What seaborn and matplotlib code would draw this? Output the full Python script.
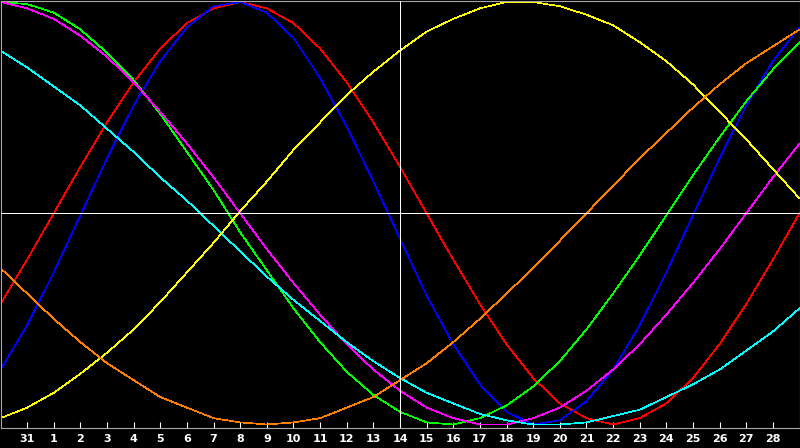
import numpy as np
import pandas as pd
import matplotlib
matplotlib.use("Agg")
import matplotlib.pyplot as plt
import seaborn as sns

# Day labels shown on the axis (index 1..29); index 0 and 30 are unlabeled edges
day_labels = ["31", "1", "2", "3", "4", "5", "6", "7", "8", "9", "10", "11", "12", "13",
              "14", "15", "16", "17", "18", "19", "20", "21", "22", "23", "24", "25",
              "26", "27", "28"]

# Values per day index 0..30 (range -1..1)
red = [-0.43, -0.22, 0.00, 0.22, 0.43, 0.62, 0.78, 0.90, 0.97, 1.00, 0.97, 0.90, 0.78,
       0.62, 0.43, 0.22, 0.00, -0.22, -0.43, -0.62, -0.78, -0.90, -0.97, -1.00, -0.97,
       -0.90, -0.78, -0.62, -0.43, -0.22, 0.00]
blue = [-0.74, -0.53, -0.28, -0.01, 0.26, 0.51, 0.72, 0.88, 0.98, 1.00, 0.95, 0.83,
        0.64, 0.41, 0.15, -0.12, -0.39, -0.62, -0.81, -0.94, -1.00, -0.98, -0.89, -0.74,
        -0.53, -0.28, -0.01, 0.26, 0.51, 0.72, 0.88]
green = [1.00, 0.99, 0.95, 0.87, 0.76, 0.63, 0.47, 0.29, 0.11, -0.09, -0.27, -0.45,
         -0.61, -0.75, -0.86, -0.94, -0.99, -1.00, -0.97, -0.91, -0.82, -0.70, -0.55,
         -0.38, -0.20, -0.01, 0.18, 0.36, 0.53, 0.68, 0.81]
magenta = [1.00, 0.97, 0.92, 0.84, 0.74, 0.62, 0.48, 0.33, 0.17, 0.00, -0.17, -0.33,
           -0.48, -0.62, -0.74, -0.84, -0.92, -0.97, -1.00, -1.00, -0.97, -0.92, -0.84,
           -0.74, -0.62, -0.48, -0.33, -0.17, 0.00, 0.17, 0.33]
cyan = [0.77, 0.69, 0.60, 0.51, 0.40, 0.29, 0.17, 0.06, -0.06, -0.18, -0.30, -0.41,
        -0.51, -0.61, -0.70, -0.78, -0.85, -0.90, -0.95, -0.98, -1.00, -1.00, -0.99,
        -0.96, -0.93, -0.87, -0.81, -0.74, -0.65, -0.56, -0.45]
yellow = [-0.97, -0.92, -0.85, -0.76, -0.66, -0.55, -0.42, -0.28, -0.14, 0.01, 0.15,
          0.30, 0.43, 0.56, 0.67, 0.77, 0.86, 0.92, 0.97, 1.00, 1.00, 0.98, 0.94, 0.89,
          0.81, 0.72, 0.61, 0.48, 0.35, 0.21, 0.07]
orange = [-0.26, -0.38, -0.50, -0.61, -0.71, -0.79, -0.87, -0.92, -0.97, -0.99, -1.00,
          -0.99, -0.97, -0.92, -0.87, -0.79, -0.71, -0.61, -0.50, -0.38, -0.26, -0.13,
          0.00, 0.13, 0.26, 0.38, 0.50, 0.61, 0.71, 0.79, 0.87]

series = [
    ("red", red, "#ff0000"),
    ("blue", blue, "#0000ff"),
    ("green", green, "#00ff00"),
    ("magenta", magenta, "#ff00ff"),
    ("cyan", cyan, "#00ffff"),
    ("yellow", yellow, "#ffff00"),
    ("orange", orange, "#ff8000"),
]

day_index = list(range(len(red)))
frames = []
for name, vals, _ in series:
    frames.append(pd.DataFrame({"day": day_index, "value": vals, "curve": name}))
df = pd.concat(frames, ignore_index=True)
palette = {name: col for name, _, col in series}

sns.set_style("dark")
plt.rcParams["font.family"] = ["DejaVu Sans"]

W, H = 800, 448
fig = plt.figure(figsize=(W / 100, H / 100), dpi=100, facecolor="black")
ax = fig.add_axes([0.5 / W, 20 / H, 799 / W, (H - 20 - 0.5) / H])
ax.set_facecolor("black")

sns.lineplot(data=df, x="day", y="value", hue="curve", palette=palette,
             hue_order=[s[0] for s in series], ax=ax, legend=False,
             linewidth=0.5, estimator=None, sort=False, antialiased=False)

ax.axhline(0, color="white", linewidth=0.5, zorder=10, antialiased=False)
ax.axvline(15, color="white", linewidth=0.5, zorder=10, antialiased=False)

ax.set_xlim(0, 30)
ax.set_ylim(-1.0165, 1.0071)
ax.grid(False)

ax.set_xticks(list(range(1, 1 + len(day_labels))))
ax.set_xticklabels(day_labels, color="white", fontsize=8, fontweight="bold")
ax.tick_params(axis="x", direction="in", length=4, width=0.8, color="white",
               pad=4, bottom=True)
ax.tick_params(axis="y", left=False, labelleft=False)
ax.set_xlabel("")
ax.set_ylabel("")

for side in ["top", "left", "right", "bottom"]:
    ax.spines[side].set_visible(True)
    ax.spines[side].set_color("#a8a8a8")
    ax.spines[side].set_linewidth(0.8)

fig.savefig("out.png", dpi=100, facecolor="black")
